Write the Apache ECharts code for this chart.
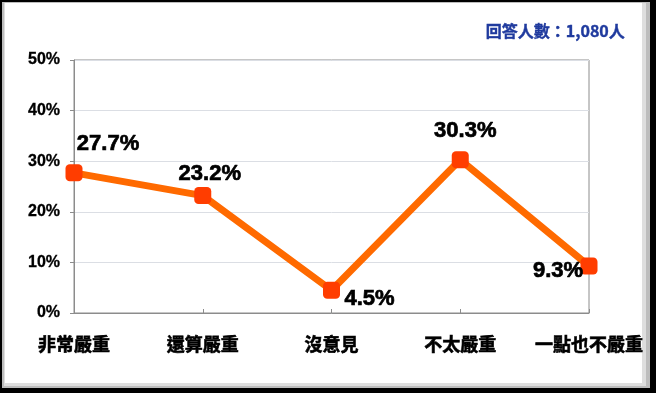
<!DOCTYPE html>
<html>
<head>
<meta charset="utf-8">
<script src="https://cdn.jsdelivr.net/npm/echarts@6/dist/echarts.min.js"></script>
<style>
html,body{margin:0;padding:0;background:#fff;}
#c{width:656px;height:393px;}
</style>
</head>
<body>
<div id="c"></div>
<script>
const categories = ['非常嚴重', '還算嚴重', '沒意見', '不太嚴重', '一點也不嚴重'];
const values = [27.7, 23.2, 4.5, 30.3, 9.3];
const yTicks = [0, 10, 20, 30, 40, 50];
const note = '回答人數：1,080人';
const labelOffsets = [[34, -29], [7, -22], [38, 9], [5, -29], [-31, 5]];

const chart = echarts.init(document.getElementById('c'), null, {renderer: 'canvas'});
chart.setOption({
  backgroundColor: '#fff',
  animation: false,
  graphic: [
    {type: 'rect', z: -10, shape: {x: 0, y: 0, width: 656, height: 393}, style: {fill: '#000'}, silent: true},
    {type: 'rect', z: -9, shape: {x: 2, y: 2, width: 648, height: 386}, style: {fill: '#bdbdbd'}, silent: true},
    {type: 'rect', z: -8, shape: {x: 4, y: 3, width: 642, height: 383}, style: {fill: '#dedede'}, silent: true},
    {type: 'rect', z: -7, shape: {x: 5, y: 3, width: 637, height: 380}, style: {fill: '#fff'}, silent: true},
    {type: 'text', right: 31, top: 23, style: {text: note, fill: '#1f3a9e', stroke: '#1f3a9e', lineWidth: 0.4, font: 'bold 16px "Noto Sans CJK TC", "Liberation Serif", serif'}}
  ],
  grid: {left: 74, right: 67, top: 60, bottom: 80, show: true, borderColor: '#8c8c8c', borderWidth: 1, backgroundColor: 'transparent'},
  xAxis: {
    type: 'category',
    data: categories,
    boundaryGap: false,
    axisLine: {lineStyle: {color: '#8c8c8c', width: 1}},
    axisTick: {show: true, inside: true, length: 4, lineStyle: {color: '#8c8c8c'}},
    axisLabel: {color: '#000', fontSize: 18, fontWeight: 'bold', fontFamily: '"Noto Sans CJK TC", sans-serif', margin: 22, interval: 0, textBorderColor: '#000', textBorderWidth: 0.6}
  },
  yAxis: {
    type: 'value',
    min: yTicks[0],
    max: yTicks[yTicks.length - 1],
    interval: 10,
    axisLine: {show: true, lineStyle: {color: '#8c8c8c', width: 1}},
    axisTick: {show: true, length: 4, lineStyle: {color: '#8c8c8c'}},
    axisLabel: {color: '#000', fontSize: 16, fontWeight: 'bold', fontFamily: '"Liberation Sans", Arial, sans-serif', margin: 14, formatter: '{value}%', textBorderColor: '#000', textBorderWidth: 0.3}
  },
  series: [{
    type: 'line',
    data: values.map((v, i) => ({
      value: v,
      label: {offset: labelOffsets[i]}
    })),
    lineStyle: {color: '#ff6a00', width: 7},
    itemStyle: {color: '#ff3d00', borderWidth: 0},
    symbol: 'roundRect',
    symbolSize: 17,
    showAllSymbol: true,
    label: {
      show: true,
      position: 'inside',
      formatter: p => p.value.toFixed(1) + '%',
      color: '#000',
      fontSize: 22,
      fontWeight: 'bold',
      fontFamily: '"Liberation Sans", Arial, sans-serif',
      textBorderColor: '#000',
      textBorderWidth: 0.7
    },
    emphasis: {disabled: true},
    z: 3
  }]
});
</script>
</body>
</html>
